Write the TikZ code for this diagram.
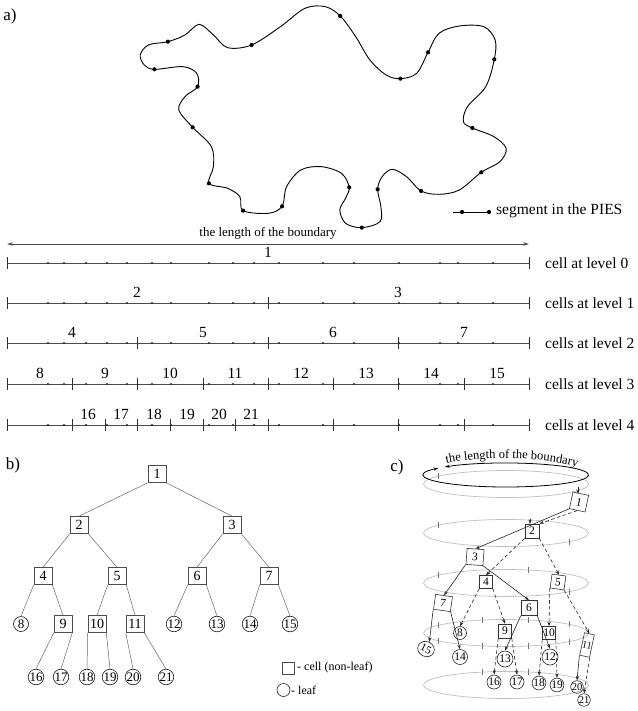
\documentclass[tikz,border=0pt]{standalone}
\usepackage{fontspec}
\setmainfont{Liberation Serif}
\usetikzlibrary{arrows.meta,decorations.text,shapes.geometric}
\newcommand{\fsz}[1]{\fontsize{#1}{#1}\selectfont}
\begin{document}
\begin{tikzpicture}[x=1pt,y=-1pt,
  cdot/.style={circle,fill=black,inner sep=0pt,minimum size=4.2pt},
  ldot/.style={circle,fill=black!85,inner sep=0pt,minimum size=2.4pt},
  lvl/.style={draw=black!70,line width=0.8pt},
  ltick/.style={draw=black!80,line width=0.7pt},
  numlab/.style={font=\fsz{15.5},inner sep=0pt},
  lvllab/.style={font=\fsz{15.5},anchor=west,inner sep=0pt},
  panel/.style={font=\fsz{17},inner sep=0pt},
  tb/.style={draw=black!70,line width=0.6pt,minimum width=18pt,minimum height=17pt,inner sep=0pt,font=\fsz{14}},
  tl/.style={circle,draw=black!90,line width=0.6pt,minimum size=15pt,inner sep=0pt,font=\fsz{13}},
  tedge/.style={draw=black!60,line width=0.5pt},
  ring/.style={draw=black!25,line width=0.7pt},
  rtick/.style={draw=black!55,line width=0.6pt},
  cb/.style={draw=black!80,line width=0.6pt,inner sep=0pt,minimum width=15pt,minimum height=15pt,font=\fsz{11.5}},
  cl/.style={circle,draw=black!85,line width=0.6pt,inner sep=0pt,minimum size=14pt,font=\fsz{11.5}},
  ce/.style={draw=black!85,line width=0.6pt,-{Stealth[length=4.5pt,width=3.2pt]}},
  ced/.style={ce,dash pattern=on 3.5pt off 2.5pt},
]
\useasboundingbox (0,0) rectangle (637,711);

% ---------------- panel a ----------------
\node[panel] (pa) at (10,16) {a)};
\begin{scope}[xscale=0.4065,yscale=0.3333]
\draw[line width=0.9pt] plot[smooth cycle,tension=0.55] coordinates {
(413,125) (455,105) (490,73) (525,105) (560,143) (619,135) (690,80) (750,25) (800,20)
(837,48) (875,110) (910,180) (950,225) (985,236) (1025,220) (1053,157) (1080,100)
(1130,78) (1190,80) (1218,120) (1216,178) (1195,260) (1150,320) (1140,365) (1162,384)
(1215,410) (1245,445) (1230,485) (1184,517) (1130,570) (1080,583) (1036,573) (1000,530)
(965,508) (940,530) (929,568) (937,620) (935,665) (890,683) (850,670) (836,630) (850,595)
(859,562) (840,520) (790,500) (740,510) (705,560) (694,619) (660,640) (598,632) (590,590)
(560,565) (514,550) (525,500) (520,440) (474,382) (440,330) (455,290) (486,260) (484,220)
(450,200) (380,208) (355,195) (345,165) (365,135)};
\foreach \a/\b [count=\i] in {413/125,619/135,837/48,1053/157,1216/178,985/236,380/208,
  486/260,474/382,1162/384,1184/517,514/550,859/562,929/568,1036/573,598/632,694/619,890/683}
  \node[cdot] (cd\i) at (\a,\b) {};
\end{scope}

% segment legend
\node[cdot] (sg1) at (462,212) {};
\node[cdot] (sg2) at (489,212) {};
\coordinate (sg0) at (453,212);
\draw[line width=0.8pt] (sg0) -- (sg2);
\node[font=\fsz{15.5},anchor=west,inner sep=0pt] (sgt) at (496,211) {segment in the PIES};

% length arrow
\coordinate (arL) at (7,244);
\coordinate (arR) at (529,244);
\draw[draw=black!70,line width=0.7pt,{Stealth[length=6pt,width=3.5pt]}-{Stealth[length=6pt,width=3.5pt]}] (arL) -- (arR);
\node[font=\fsz{13},inner sep=0pt] (arT) at (268,233) {the length of the boundary};

% level lines
\foreach \ly/\tk/\lab/\txt [count=\k from 0] in {
 263/{7,529}/{268/1}/{cell at level 0},
 303/{7,268,529}/{137/2,398/3}/{cells at level 1},
 343/{7,137.5,268,398.5,529}/{72/4,203/5,333/6,464/7}/{cells at level 2},
 384/{7,72,137.5,203,268,333,398.5,464,529}/{40/8,105/9,170/10,235/11,301/12,366/13,431/14,497/15}/{cells at level 3},
 425/{7,72,105,137.5,170,203,235,268,333,398.5,464,529}/{88/16,121/17,154/18,187/19,219/20,251/21}/{cells at level 4}}
{
  \coordinate (lA\k) at (7,\ly);
  \coordinate (lB\k) at (529,\ly);
  \draw[lvl] (lA\k) -- (lB\k);
  \foreach \x in \tk \draw[ltick] (\x,\ly-6) -- (\x,\ly+6);
  \foreach \x in {48,64,86,107,127,152,171,209,233,254,279,323,354,399,440,458,493}
    \node[ldot] at (\x,\ly) {};
  \foreach \x/\n in \lab \node[numlab] at (\x,\ly-11) {\n};
  \node[lvllab] (lt\k) at (545,\ly) {\txt};
}

% ---------------- panel b ----------------
\node[panel] (pb) at (13,465) {b)};
\node[tb] (b1) at (157,474) {1};
\node[tb] (b2) at (79,525) {2};
\node[tb] (b3) at (232,525) {3};
\node[tb] (b4) at (43,576) {4};
\node[tb] (b5) at (117,576) {5};
\node[tb] (b6) at (197,576) {6};
\node[tb] (b7) at (269,576) {7};
\node[tl] (b8) at (21,624) {8};
\node[tb] (b9) at (63,624) {9};
\node[tb] (b10) at (97,624) {10};
\node[tb] (b11) at (135,624) {11};
\node[tl] (b12) at (174,624) {12};
\node[tl] (b13) at (217,624) {13};
\node[tl] (b14) at (250,624) {14};
\node[tl] (b15) at (290,624) {15};
\node[tl] (b16) at (36,677) {16};
\node[tl] (b17) at (61,677) {17};
\node[tl] (b18) at (87,677) {18};
\node[tl] (b19) at (110,677) {19};
\node[tl] (b20) at (133,677) {20};
\node[tl] (b21) at (166,677) {21};
\foreach \p/\l/\r in {b1/b2/b3,b2/b4/b5,b3/b6/b7,b4/b8/b9,b5/b10/b11,b6/b12/b13,b7/b14/b15,b9/b16/b17,b10/b18/b19,b11/b20/b21}
{
  \draw[tedge] (\p.south west) -- (\l.north);
  \draw[tedge] (\p.south east) -- (\r.north);
}
% legend
\node[draw=black!70,line width=0.6pt,minimum size=12pt,inner sep=0pt] (lgb) at (288,668) {};
\node[font=\fsz{12},anchor=west,inner sep=0pt] (lgbt) at (297,668) {- cell (non-leaf)};
\node[circle,draw=black!85,line width=0.6pt,minimum size=13pt,inner sep=0pt] (lgc) at (283.5,690) {};
\node[font=\fsz{12},anchor=west,inner sep=0pt] (lgct) at (291,690) {- leaf};

% ---------------- panel c ----------------
\node[panel] (pc) at (397,467) {c)};
\foreach \cy in {484,533,583,633,685}
  \draw[ring] (506,\cy) ellipse[x radius=82.5,y radius=13.5];
\foreach \cy/\angs in {484/{145},533/{145,320},583/{145,74,320},633/{145,107,74,40,215,253,286,320},685/{107,74}}
  \foreach \t in \angs
    \draw[rtick] ({506+82.5*cos(\t)},{\cy-13.5*sin(\t)-3}) -- ++(0,6);
% black boundary ring with arrows
\draw[line width=0.8pt,{Stealth[length=5pt,width=3pt]}-{Stealth[length=5pt,width=3pt]}]
  ({506+82.5*cos(215)},{475+12*sin(215)}) arc[start angle=215,end angle=-138,x radius=82.5,y radius=12];
\path[decorate,decoration={text along path,text align=center,
  text={|\fsz{12.5}|the length of the boundary}}]
  (436,466) .. controls (470,455.5) and (550,454.5) .. (587,471);

% tree nodes in c
\node[cb,minimum width=16pt,minimum height=17pt,rotate=-12] (c1) at (579,502) {1};
\node[cb,minimum size=14pt] (c2) at (532,531) {2};
\node[cb,minimum width=17pt,minimum height=16pt,rotate=-4] (c3) at (475,557) {3};
\node[cb,minimum size=13pt] (c4) at (486,582) {4};
\node[cb,minimum size=14pt,rotate=-8] (c5) at (558,582) {5};
\node[cb,minimum width=16pt,minimum height=15pt] (c6) at (529,608) {6};
\node[cb,minimum width=17pt,minimum height=15pt,rotate=-8] (c7) at (443,603) {7};
\node[cl,minimum size=13pt] (c8) at (460,633) {8};
\node[cb,minimum width=13pt,minimum height=14pt] (c9) at (505,631) {9};
\node[cb,minimum width=13pt,minimum height=13pt] (c10) at (549,633) {10};
\node[cb,minimum width=10pt,minimum height=23pt,rotate=-12,font=\fsz{10}] (c11) at (587,645) {11};
\node[ellipse,draw=black!85,line width=0.6pt,inner sep=0pt,minimum width=17pt,minimum height=15pt,rotate=-25,font=\fsz{11}] (c15) at (426,649) {15};
\node[cl,minimum size=15pt] (c14) at (460,657) {14};
\node[cl,minimum size=16pt] (c13) at (505,659) {13};
\node[cl,minimum size=16pt] (c12) at (550,657) {12};
\node[cl] (c16) at (494,682) {16};
\node[cl] (c17) at (517,682) {17};
\node[cl,minimum size=13pt] (c18) at (539,683) {18};
\node[cl,minimum size=13pt] (c19) at (557,685) {19};
\node[cl,minimum size=12pt,font=\fsz{10.5}] (c20) at (577,687) {20};
\node[cl,minimum size=12pt,font=\fsz{10.5}] (c21) at (584,700) {21};

% small markers above root
\coordinate (m1a) at (578,487);
\coordinate (m1b) at (578,494);
\draw[ce] (m1a) -- (m1b);
\coordinate (m2a) at (530,519);
\coordinate (m2b) at (530,524);
\draw[ce] (m2a) -- (m2b);

% edges in c
\draw[ce] (c1.south west) -- (c3.north);
\draw[ced] (c1.south) -- (c2.north east);
\draw[ced] (c2.south west) -- (c4.north);
\draw[ced] (c2.south east) -- (c5.north);
\draw[ce] (c3.south west) -- (c7.north);
\draw[ce] (c3.south east) -- (c6.north);
\draw[ced] (c4.south west) -- (c8.north);
\draw[ced] (c4.south east) -- (c9.north);
\draw[ced] (c5.south west) -- (c10.north);
\draw[ced] (c5.south east) -- (c11.north);
\draw[ce] (c7.south west) -- (c15.north);
\draw[ce] (c7.south east) -- (c14.north);
\draw[ce] (c6.south west) -- (c13.north);
\draw[ce] (c6.south east) -- (c12.north);
\draw[ced] (c9.south west) -- (c16.north);
\draw[ced] (c9.south east) -- (c17.north);
\draw[ced] (c10.south west) -- (c18.north);
\draw[ced] (c10.south east) -- (c19.north);
\draw[ce] (c11.south west) -- (c20.north);
\draw[ced] (c11.south east) -- (c21.north);
\end{tikzpicture}
\end{document}
